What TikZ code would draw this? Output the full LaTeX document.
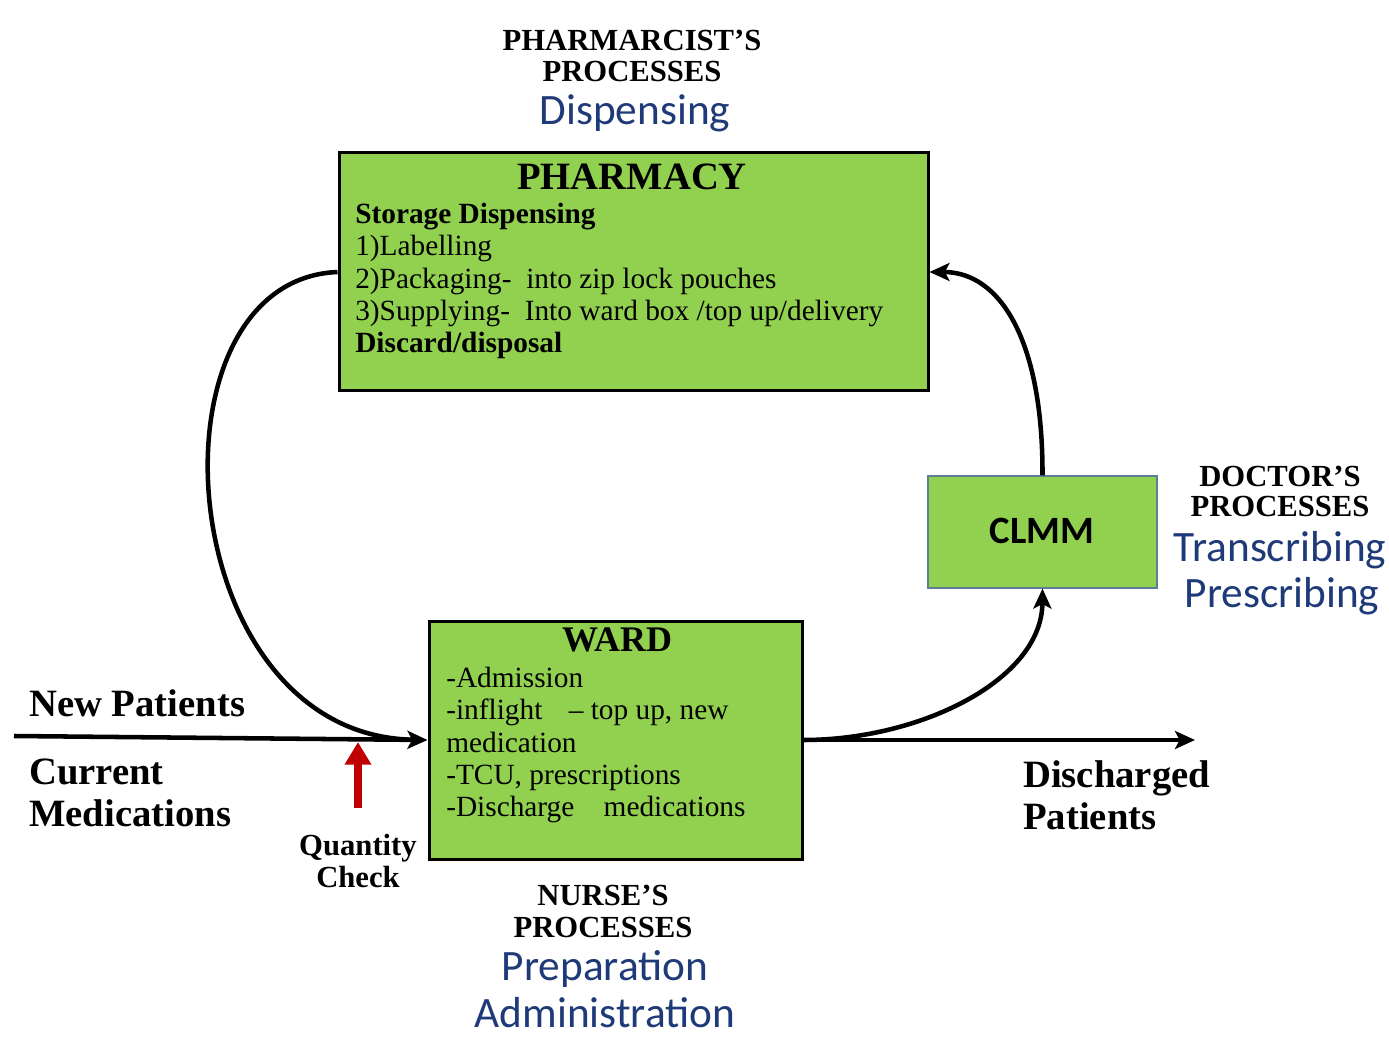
\documentclass[tikz,border=0pt]{standalone}
\usepackage{fontspec}
\setmainfont{Liberation Serif}
\newfontfamily\calib{Carlito}
\usetikzlibrary{arrows.meta}
\definecolor{boxgreen}{HTML}{92D050}
\definecolor{procblue}{HTML}{1F3A78}
\definecolor{clmmedge}{HTML}{5B7F95}
\definecolor{chkred}{HTML}{C00000}
\begin{document}
\begin{tikzpicture}[x=0.75pt,y=-0.75pt,
  mainbox/.style={draw=black, line width=2.25pt, fill=boxgreen, inner sep=0pt},
  smallbox/.style={draw=clmmedge, line width=0.9pt, fill=boxgreen, inner sep=0pt},
  ltxt/.style={inner sep=0pt, anchor=base west},
  ctxt/.style={inner sep=0pt, anchor=base},
  body/.style={font=\fontsize{22}{26}\selectfont},
  bodyb/.style={font=\fontsize{22}{26}\selectfont\bfseries},
  head/.style={font=\fontsize{23}{28}\selectfont\bfseries},
  big/.style={font=\fontsize{29}{34}\selectfont\bfseries},
  blue/.style={font=\fontsize{32.5}{38}\selectfont\calib, text=procblue},
  conn/.style={line width=3.4pt, -{Stealth[length=15pt,width=13.5pt,inset=3.5pt]}}
]
\useasboundingbox[fill=white] (0,0) rectangle (1389,1037);

% boxes
\node[mainbox, minimum width=441.75pt, minimum height=178.5pt] (pharm) at (633.5,272) {};
\node[mainbox, minimum width=279.75pt, minimum height=178.5pt] (ward) at (615.5,740) {};
\node[smallbox, minimum width=171.75pt, minimum height=84pt] (clmm) at (1042.5,532) {};

% pharmacy text
\node[ctxt, big] (phT) at (632,190) {PHARMACY};
\node[ltxt, bodyb] (ph1) at (355,224) {Storage Dispensing};
\node[ltxt, body] (ph2) at (355,256) {1)Labelling};
\node[ltxt, body] (ph3) at (355,289) {2)Packaging-\hspace{0.5em}into zip lock pouches};
\node[ltxt, body] (ph4) at (355,321) {3)Supplying-\hspace{0.5em}Into ward box /top up/delivery};
\node[ltxt, bodyb] (ph5) at (355,353) {Discard/disposal};

% ward text
\node[ctxt, font=\fontsize{27}{32}\selectfont\bfseries] (wT) at (617,651) {WARD};
\node[ltxt, body] (w1) at (446,687) {-Admission};
\node[ltxt, body] (w2) at (446,719) {-inflight\hspace{0.9em}-- top up, new};
\node[ltxt, body] (w3) at (446,752) {medication};
\node[ltxt, body] (w4) at (446,784) {-TCU, prescriptions};
\node[ltxt, body] (w5) at (446,816) {-Discharge\hspace{1em}medications};

% CLMM text
\node[ctxt, font=\fontsize{29}{34}\selectfont\calib\bfseries] (cT) at (1042,543) {CLMM};

% process labels
\node[ctxt, head] (pp1) at (632,51) {PHARMARCIST’S};
\node[ctxt, head] (pp2) at (632,82) {PROCESSES};
\node[ctxt, blue] (pp3) at (635,125) {Dispensing};

\node[ctxt, head] (dp1) at (1280,486) {DOCTOR’S};
\node[ctxt, head] (dp2) at (1280,517) {PROCESSES};
\node[ctxt, blue] (dp3) at (1280,561) {Transcribing};
\node[ctxt, blue] (dp4) at (1282,607) {Prescribing};

\node[ctxt, head] (np1) at (603,905) {NURSE’S};
\node[ctxt, head] (np2) at (603,937) {PROCESSES};
\node[ctxt, blue] (np3) at (605,980) {Preparation};
\node[ctxt, blue] (np4) at (605,1027) {Administration};

% side labels
\node[ltxt, big] (nP) at (29,716) {New Patients};
\node[ltxt, big] (cM1) at (29,784) {Current};
\node[ltxt, big] (cM2) at (29,826) {Medications};
\node[ltxt, big] (dP1) at (1023,787) {Discharged};
\node[ltxt, big] (dP2) at (1023,829) {Patients};
\node[ctxt, head] (qc1) at (358,855) {Quantity};
\node[ctxt, head] (qc2) at (358,887) {Check};

% connectors
\coordinate (inL) at (14,736);
\coordinate (outR) at (1195,740);
\coordinate (qbase) at (358,808);
\coordinate (qtip) at (358,742);

\draw[line width=3.4pt, shorten >=11pt] (pharm.west) .. controls (140,280) and (170,735) .. (ward.west);
\draw[conn] (inL) -- (ward.west);
\draw[conn] (ward.east) -- (outR);
\draw[conn] (ward.east) .. controls (920,740) and (1042,680) .. (clmm.south);
\draw[conn] (clmm.north) .. controls (1043,340) and (1000,272) .. (pharm.east);
\draw[line width=5.5pt, chkred, -{Triangle[length=17pt,width=19pt]}] (qbase) -- (qtip);
\end{tikzpicture}
\end{document}
